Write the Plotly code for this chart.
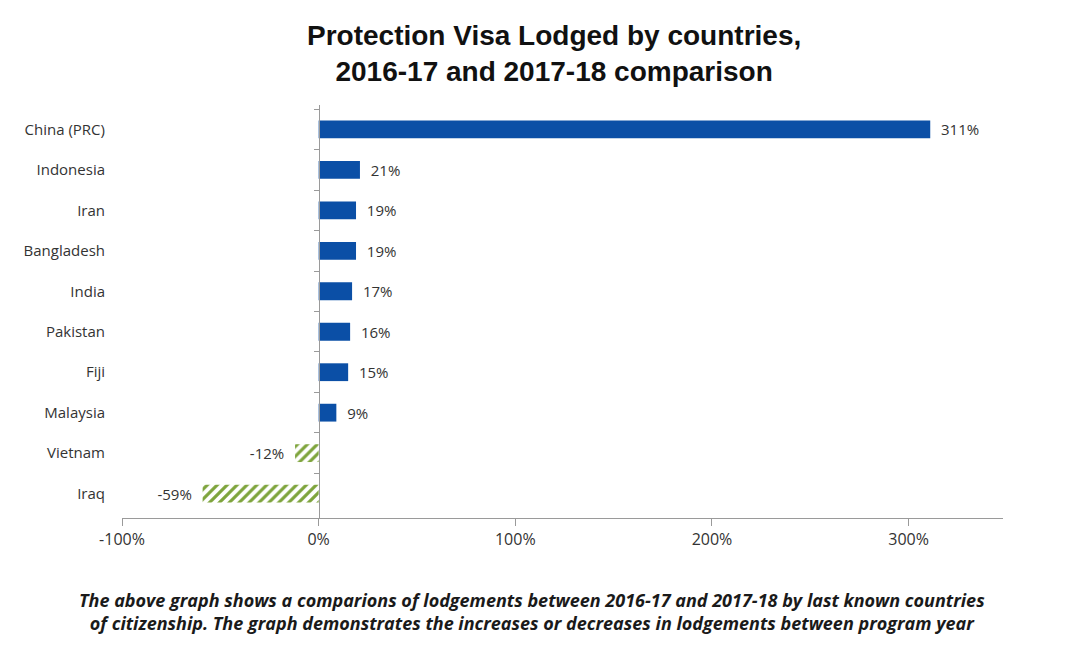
"""Protection Visa lodgements by country, 2016-17 vs 2017-18 change."""
import plotly.graph_objects as go

countries = ["China (PRC)", "Indonesia", "Iran", "Bangladesh", "India",
             "Pakistan", "Fiji", "Malaysia", "Vietnam", "Iraq"]
change_pct = [311, 21, 19, 19, 17, 16, 15, 9, -12, -59]
x_ticks = [-100, 0, 100, 200, 300]
x_tick_labels = ["-100%", "0%", "100%", "200%", "300%"]

BLUE = "#0b4fa6"
GREEN = "#7ea43c"
AXIS = "#9a9a9a"
TEXT = "#333333"
FONT = "Open Sans"
X_RANGE = [-100, 348]

up = [(c, v) for c, v in zip(countries, change_pct) if v >= 0]
down = [(c, v) for c, v in zip(countries, change_pct) if v < 0]

fig = go.Figure()
fig.add_trace(go.Bar(
    y=[c for c, _ in up],
    x=[v for _, v in up],
    orientation="h",
    width=0.44,
    marker=dict(color=BLUE, line=dict(width=0)),
    text=[f"  {v}%" for _, v in up],
    textposition="outside",
    constraintext="none",
    textfont=dict(family=FONT, size=15, color=TEXT),
    cliponaxis=False,
    showlegend=False,
    hoverinfo="skip",
))
fig.add_trace(go.Bar(
    y=[c for c, _ in down],
    x=[v for _, v in down],
    orientation="h",
    width=0.44,
    marker=dict(
        color="white",
        line=dict(width=0),
        pattern=dict(shape="/", fgcolor=GREEN, bgcolor="white",
                     size=7, solidity=0.45, fillmode="replace"),
    ),
    text=[f"{v}%  " for _, v in down],
    textposition="outside",
    constraintext="none",
    textfont=dict(family=FONT, size=15, color=TEXT),
    cliponaxis=False,
    showlegend=False,
    hoverinfo="skip",
))
# invisible helper trace so the axis at x=0 has categories
fig.add_trace(go.Scatter(
    y=countries, x=[0] * len(countries), yaxis="y2",
    mode="markers", marker=dict(opacity=0), showlegend=False, hoverinfo="skip",
))

zero_pos = (0 - X_RANGE[0]) / (X_RANGE[1] - X_RANGE[0])

fig.update_layout(
    width=1080,
    height=667,
    margin=dict(l=114, r=85, t=97, b=157, autoexpand=False),
    barmode="overlay",
    paper_bgcolor="white",
    plot_bgcolor="white",
    xaxis=dict(
        range=X_RANGE,
        tickvals=x_ticks,
        ticktext=x_tick_labels,
        showgrid=False,
        zeroline=False,
        showline=True,
        linecolor=AXIS,
        linewidth=1,
        ticks="outside",
        ticklen=7,
        tickcolor=AXIS,
        tickfont=dict(family=FONT, size=16, color=TEXT),
        automargin=False,
    ),
    yaxis=dict(
        categoryorder="array",
        categoryarray=countries,
        autorange="reversed",
        showgrid=False,
        zeroline=False,
        showline=False,
        ticks="",
        ticklabelstandoff=16,
        tickfont=dict(family=FONT, size=15, color=TEXT),
        automargin=False,
    ),
    yaxis2=dict(
        overlaying="y",
        matches="y",
        anchor="free",
        position=zero_pos,
        side="left",
        showline=True,
        linecolor=AXIS,
        linewidth=1,
        ticks="outside",
        tickson="boundaries",
        ticklen=5,
        tickcolor=AXIS,
        showticklabels=False,
        showgrid=False,
        zeroline=False,
        automargin=False,
    ),
    annotations=[
        dict(
            text="<b>Protection Visa Lodged by countries,<br>2016-17 and 2017-18 comparison</b>",
            xref="paper", yref="paper", x=0.49, y=1.0 + 87 / 413,
            xanchor="center", yanchor="top", showarrow=False, align="center",
            font=dict(family="Liberation Sans", size=28, color="#111111"),
        ),
        dict(
            text=("<b><i>The above graph shows a comparions of lodgements between 2016-17 and 2017-18 by last known countries<br>"
                  "of citizenship. The graph demonstrates the increases or decreases in lodgements between program year</i></b>"),
            xref="paper", yref="paper", x=0.465, y=-68 / 413,
            xanchor="center", yanchor="top", showarrow=False, align="center",
            font=dict(family=FONT, size=18, color="#1a1a1a"),
        ),
    ],
)

fig.write_html("out.html")
